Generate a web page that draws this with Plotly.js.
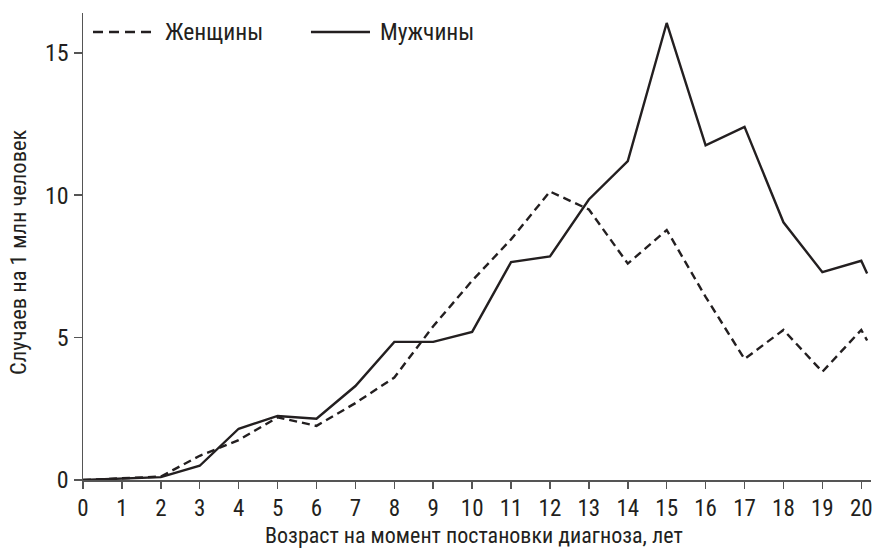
<!DOCTYPE html>
<html>
<head>
<meta charset="utf-8">
<script src="https://cdn.plot.ly/plotly-3.0.1.min.js"></script>
<style>html,body{margin:0;padding:0;background:#fff;}#chart{width:872px;height:549px;}</style>
</head>
<body>
<div id="chart"></div>
<script>
var ages = [0, 1, 2, 3, 4, 5, 6, 7, 8, 9, 10, 11, 12, 13, 14, 15, 16, 17, 18, 19, 20, 20.15];
var women = [0, 0.05, 0.12, 0.85, 1.4, 2.2, 1.9, 2.7, 3.6, 5.4, 7.0, 8.45, 10.13, 9.5, 7.6, 8.78, 6.43, 4.25, 5.27, 3.8, 5.27, 4.9];
var men = [0, 0.05, 0.1, 0.5, 1.8, 2.25, 2.15, 3.3, 4.85, 4.85, 5.2, 7.65, 7.85, 9.85, 11.2, 16.05, 11.75, 12.4, 9.05, 7.3, 7.7, 7.25];
var seriesNames = ["Женщины", "Мужчины"];
var xTicks = [0,1,2,3,4,5,6,7,8,9,10,11,12,13,14,15,16,17,18,19,20];
var yTicks = [0, 5, 10, 15];
var xTitle = "Возраст на момент постановки диагноза, лет";
var yTitle = "Случаев на 1 млн человек";

var FONT = "'Liberation Sans Narrow', 'Roboto Condensed', 'Liberation Sans', sans-serif";
var INK = "#231f20";
var DASH = "8px,5px";

var traces = [
  {x: ages, y: women, name: seriesNames[0], mode: "lines", type: "scatter",
   line: {color: INK, width: 2.4, dash: DASH}},
  {x: ages, y: men, name: seriesNames[1], mode: "lines", type: "scatter",
   line: {color: INK, width: 2.4}}
];

// legend drawn as paper-positioned samples + labels
var legY = 0.9593;
var legend = [
  {x0: 0.0127, x1: 0.0876, tx: 0.1015, dash: "10px,6px", name: seriesNames[0]},
  {x0: 0.2893, x1: 0.3642, tx: 0.3744, dash: "solid", name: seriesNames[1]}
];
var shapes = legend.map(function (l) {
  return {type: "line", xref: "paper", yref: "paper", x0: l.x0, x1: l.x1, y0: legY, y1: legY,
          line: {color: INK, width: 2.4, dash: l.dash}};
});
var annotations = legend.map(function (l) {
  return {text: l.name, xref: "paper", yref: "paper", x: l.tx, y: legY, xanchor: "left", yanchor: "middle",
          showarrow: false, font: {family: FONT, size: 23.5, color: INK}};
});
annotations.push(
  {text: xTitle, xref: "paper", yref: "paper", x: 0.4962, y: -0.1178,
   xanchor: "center", yanchor: "middle", showarrow: false,
   font: {family: FONT, size: 22, color: INK}},
  {text: yTitle, xref: "paper", yref: "paper", x: -0.0825, y: 0.4882,
   xanchor: "center", yanchor: "middle", showarrow: false, textangle: -90,
   font: {family: FONT, size: 22.5, color: INK}}
);

var layout = {
  width: 872, height: 549,
  margin: {l: 83, r: 1, t: 13, b: 69},
  paper_bgcolor: "#fff", plot_bgcolor: "#fff",
  font: {family: FONT, size: 22, color: INK},
  showlegend: false,
  xaxis: {range: [0, 20.25], tickvals: xTicks, ticktext: xTicks.map(String),
          showgrid: false, zeroline: false, showline: true, linecolor: "#555", linewidth: 1.5,
          ticks: "outside", ticklen: 7, tickcolor: "#555", tickwidth: 1.5, ticklabeloverflow: "allow",
          tickfont: {family: FONT, size: 23, color: INK}, fixedrange: true},
  yaxis: {range: [0, 16.4], tickvals: yTicks, ticktext: yTicks.map(String),
          showgrid: false, zeroline: false, showline: true, linecolor: "#555", linewidth: 1.5,
          ticks: "outside", ticklen: 8, tickcolor: "#555", tickwidth: 1.5,
          tickfont: {family: FONT, size: 24, color: INK}, fixedrange: true},
  shapes: shapes,
  annotations: annotations
};

Plotly.newPlot("chart", traces, layout, {displayModeBar: false, staticPlot: true});
</script>
</body>
</html>
